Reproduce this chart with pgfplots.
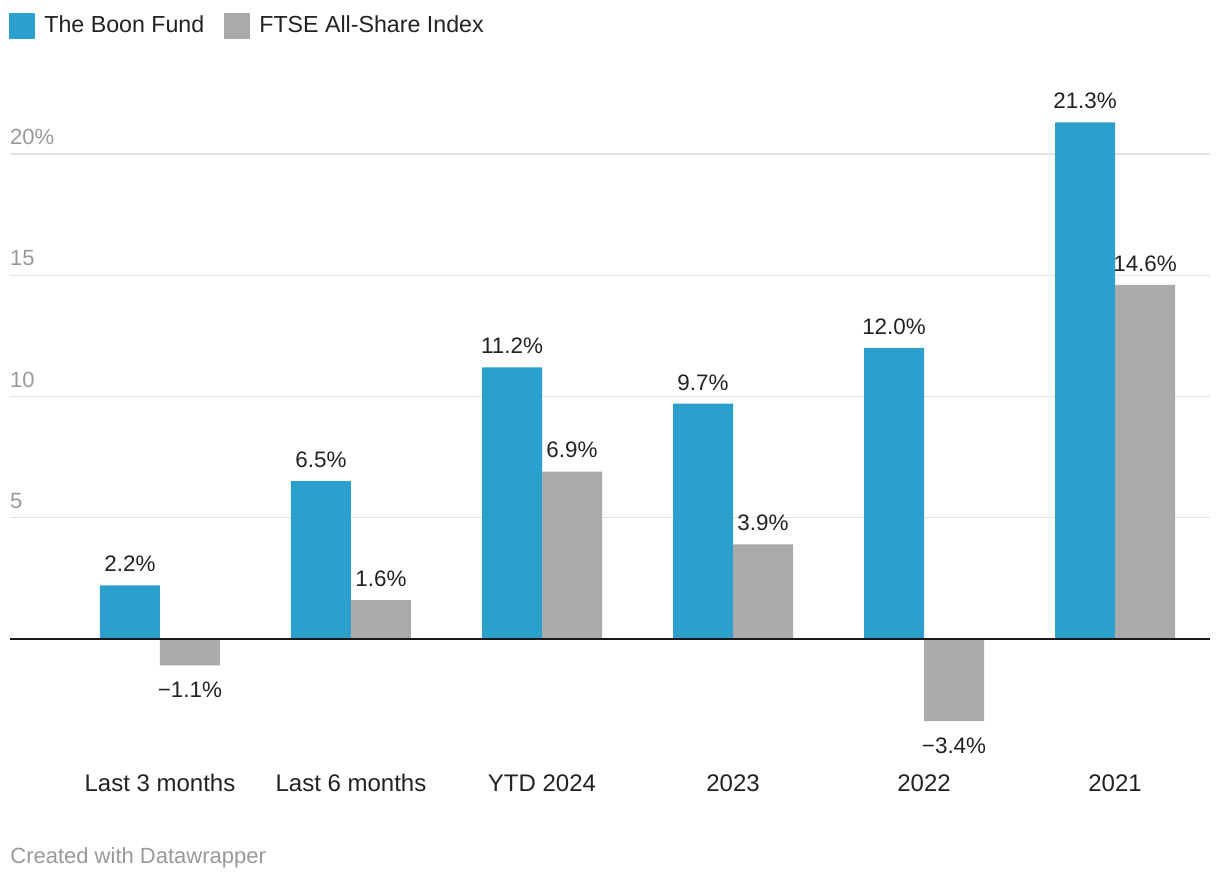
\documentclass[border=0pt]{standalone}
\usepackage{fontspec}
\setmainfont{Liberation Sans}
\usepackage{pgfplots}
\pgfplotsset{compat=1.18}
\definecolor{boon}{HTML}{2CA0CC}
\definecolor{ftse}{HTML}{AAAAAA}
\definecolor{ticktxt}{HTML}{999999}
\definecolor{gridc}{HTML}{E3E3E3}
\definecolor{txt}{HTML}{222222}
\begin{document}
\begin{tikzpicture}
\begin{axis}[
  scale only axis,
  width=600pt, height=327.25pt,
  xmin=-0.785, xmax=5.497,
  ymin=-5, ymax=22,
  ybar=0pt, bar width=30pt,
  axis line style={draw=none},
  tick style={draw=none},
  ytick={5,10,15,20},
  yticklabels={5,10,15,20\%},
  yticklabel style={anchor=south west, text=ticktxt, font=\fontsize{11}{13}\selectfont, xshift=-3.5pt, yshift=1pt},
  ymajorgrids,
  grid style={gridc, line width=0.6pt},
  xtick={0,1,2,3,4,5},
  xticklabels={Last 3 months, Last 6 months, YTD 2024, 2023, 2022, 2021},
  xticklabel style={text=txt, font=\fontsize{12}{14}\selectfont, yshift=0.5pt},
  clip=false,
  point meta=explicit symbolic,
  nodes near coords,
  every node near coord/.append style={text=txt, font=\fontsize{11.2}{13}\selectfont, inner sep=6.5pt},
  legend columns=2,
  legend style={draw=none, fill=none, at={(axis description cs:0,1)}, anchor=north west,
    xshift=-3.5pt, yshift=49pt, font=\fontsize{11.6}{13}\selectfont, text=txt,
    nodes={inner xsep=4.5pt},
    /tikz/every even column/.append style={column sep=5.5pt}},
  legend image code/.code={\fill[#1] (0pt,-6.5pt) rectangle (13pt,6.5pt);},
]
% The Boon Fund
\addplot[fill=boon, draw=none, bar shift=-15pt] coordinates {
  (0,2.2)[2.2\%] (1,6.5)[6.5\%] (2,11.2)[11.2\%] (3,9.7)[9.7\%] (4,12.0)[12.0\%] (5,21.3)[21.3\%]
};
% FTSE All-Share Index, positive years
\addplot[fill=ftse, draw=none, bar shift=15pt] coordinates {
  (1,1.6)[1.6\%] (2,6.9)[6.9\%] (3,3.9)[3.9\%] (5,14.6)[14.6\%]
};
% FTSE All-Share Index, negative years
\addplot[fill=ftse, draw=none, bar shift=15pt, forget plot,
  every node near coord/.append style={anchor=north, yshift=-1.5pt}] coordinates {
  (0,-1.1)[−1.1\%] (4,-3.4)[−3.4\%]
};
\legend{The Boon Fund, FTSE All-Share Index}
\draw[black!90, line width=1pt] (axis cs:-0.785,0) -- (axis cs:5.497,0);
\node[anchor=base west, inner sep=0pt, text=ticktxt, font=\fontsize{11}{13}\selectfont]
  at ([yshift=-52pt]rel axis cs:0,0) {Created with Datawrapper};
\end{axis}
\pgfresetboundingbox
\path[use as bounding box] ([xshift=-5pt,yshift=-61pt]current axis.south west) rectangle ([xshift=5pt,yshift=52.75pt]current axis.north east);
\end{tikzpicture}
\end{document}
